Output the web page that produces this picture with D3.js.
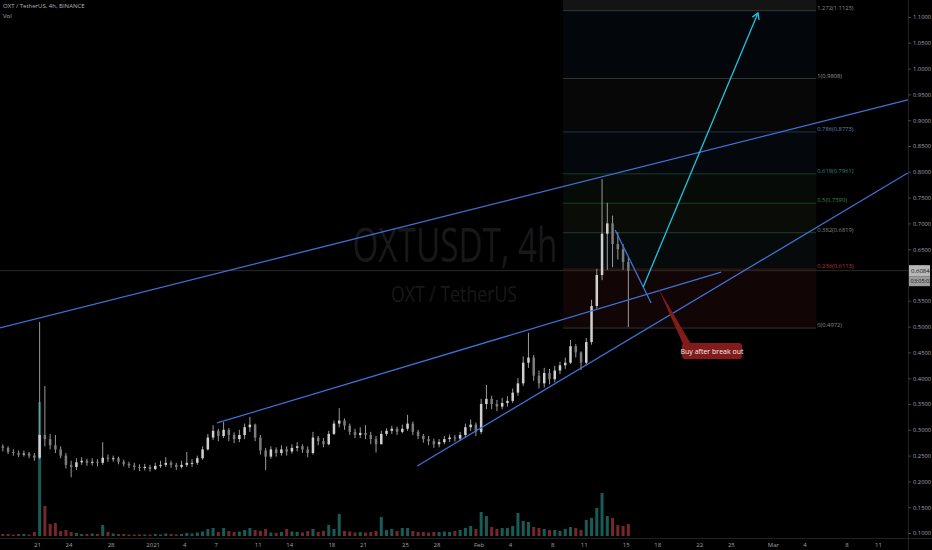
<!DOCTYPE html>
<html>
<head>
<meta charset="utf-8">
<script src="https://cdn.jsdelivr.net/npm/d3@7"></script>
<style>
    html, body { margin: 0; padding: 0; background: #000; overflow: hidden; }
    svg { display: block; font-family: "Open Sans", "DejaVu Sans", sans-serif; }
</style>
</head>
<body>
<div id="chart"></div>
<script>
// 12h candles starting at this time (UTC)
const firstCandle = "2020-12-17T12:00:00Z";
const firstOpen = 0.268;

const closes = [
    0.265, 0.257, 0.255, 0.252, 0.254, 0.250, 0.246, 0.290, 0.282, 0.270,
    0.262, 0.250, 0.232, 0.228, 0.237, 0.240, 0.236, 0.238, 0.236, 0.246,
    0.244, 0.245, 0.238, 0.234, 0.231, 0.228, 0.226, 0.228, 0.224, 0.230,
    0.232, 0.236, 0.232, 0.228, 0.232, 0.236, 0.236, 0.245, 0.262, 0.285,
    0.298, 0.288, 0.300, 0.290, 0.282, 0.290, 0.305, 0.310, 0.285, 0.260,
    0.248, 0.262, 0.255, 0.262, 0.258, 0.265, 0.268, 0.262, 0.255, 0.285,
    0.278, 0.272, 0.292, 0.312, 0.318, 0.308, 0.296, 0.290, 0.294, 0.290,
    0.282, 0.272, 0.292, 0.298, 0.302, 0.296, 0.302, 0.312, 0.296, 0.288,
    0.282, 0.278, 0.272, 0.276, 0.282, 0.285, 0.283, 0.290, 0.305, 0.310,
    0.296, 0.350, 0.360, 0.350, 0.345, 0.352, 0.356, 0.372, 0.390, 0.430,
    0.440, 0.405, 0.390, 0.410, 0.398, 0.415, 0.425, 0.430, 0.462, 0.450,
    0.430, 0.470, 0.540, 0.600, 0.680, 0.700, 0.660, 0.650, 0.625, 0.6084
];
const highs = [
    0.272, 0.268, 0.262, 0.260, 0.260, 0.257, 0.255, 0.509, 0.385, 0.292,
    0.290, 0.268, 0.255, 0.240, 0.245, 0.247, 0.244, 0.245, 0.243, 0.276,
    0.252, 0.250, 0.248, 0.242, 0.238, 0.236, 0.233, 0.234, 0.232, 0.236,
    0.240, 0.247, 0.240, 0.236, 0.240, 0.257, 0.243, 0.250, 0.268, 0.292,
    0.309, 0.302, 0.315, 0.303, 0.295, 0.300, 0.312, 0.325, 0.312, 0.290,
    0.265, 0.268, 0.266, 0.270, 0.268, 0.272, 0.276, 0.272, 0.268, 0.296,
    0.288, 0.284, 0.298, 0.318, 0.342, 0.322, 0.312, 0.302, 0.305, 0.309,
    0.296, 0.288, 0.298, 0.303, 0.308, 0.306, 0.310, 0.329, 0.316, 0.300,
    0.292, 0.288, 0.283, 0.282, 0.288, 0.291, 0.290, 0.296, 0.312, 0.320,
    0.314, 0.360, 0.387, 0.366, 0.358, 0.362, 0.365, 0.380, 0.400, 0.442,
    0.488, 0.445, 0.415, 0.420, 0.418, 0.424, 0.432, 0.440, 0.474, 0.466,
    0.452, 0.478, 0.552, 0.612, 0.786, 0.740, 0.715, 0.683, 0.660, 0.635
];
const lows = [
    0.258, 0.253, 0.250, 0.247, 0.248, 0.245, 0.240, 0.243, 0.268, 0.262,
    0.255, 0.245, 0.225, 0.208, 0.222, 0.232, 0.230, 0.231, 0.229, 0.232,
    0.238, 0.238, 0.233, 0.229, 0.226, 0.222, 0.220, 0.221, 0.219, 0.222,
    0.226, 0.228, 0.226, 0.222, 0.225, 0.228, 0.228, 0.232, 0.242, 0.260,
    0.280, 0.278, 0.284, 0.278, 0.274, 0.276, 0.282, 0.296, 0.278, 0.252,
    0.222, 0.244, 0.248, 0.250, 0.250, 0.254, 0.258, 0.255, 0.247, 0.252,
    0.270, 0.266, 0.270, 0.290, 0.305, 0.300, 0.290, 0.284, 0.284, 0.282,
    0.272, 0.256, 0.272, 0.288, 0.292, 0.290, 0.293, 0.298, 0.290, 0.282,
    0.275, 0.270, 0.265, 0.266, 0.272, 0.276, 0.277, 0.278, 0.285, 0.298,
    0.288, 0.292, 0.340, 0.340, 0.336, 0.340, 0.345, 0.352, 0.366, 0.385,
    0.420, 0.395, 0.380, 0.382, 0.388, 0.392, 0.408, 0.418, 0.428, 0.440,
    0.416, 0.425, 0.465, 0.535, 0.590, 0.610, 0.615, 0.630, 0.610, 0.499
];
// volume in millions OXT
const volumes = [
    0.4, 0.4, 0.3, 0.4, 0.4, 0.3, 0.8, 26.8, 6.0, 2.4,
    2.6, 1.0, 1.2, 0.8, 0.6, 0.4, 0.4, 0.5, 0.4, 2.2,
    0.8, 0.5, 0.4, 0.4, 0.3, 0.3, 0.3, 0.3, 0.3, 0.4,
    0.3, 0.5, 0.4, 0.3, 0.4, 0.6, 0.5, 0.7, 0.9, 1.4,
    1.6, 0.8, 1.6, 1.0, 0.8, 0.9, 1.2, 1.6, 1.2, 1.0,
    1.4, 0.7, 0.6, 0.8, 1.4, 0.9, 0.8, 0.7, 1.0, 1.4,
    0.8, 1.0, 2.2, 1.4, 4.4, 1.0, 0.9, 0.7, 0.8, 0.7,
    0.8, 1.0, 3.8, 1.2, 1.4, 1.0, 1.6, 1.6, 1.0, 0.8,
    0.8, 0.7, 0.8, 0.8, 0.9, 0.8, 1.0, 1.2, 1.6, 2.0,
    1.4, 4.8, 4.0, 1.8, 1.4, 1.6, 1.6, 2.0, 4.6, 3.0,
    2.8, 1.8, 1.6, 1.4, 1.2, 1.2, 1.0, 1.4, 1.8, 1.6,
    1.2, 3.2, 3.6, 5.6, 8.6, 4.0, 3.6, 2.2, 2.0, 2.4
];

const xTickDates = ["2020-12-21", "2020-12-24", "2020-12-28", "2021-01-01", "2021-01-04", "2021-01-07",
    "2021-01-11", "2021-01-14", "2021-01-18", "2021-01-21", "2021-01-25", "2021-01-28", "2021-02-01",
    "2021-02-04", "2021-02-08", "2021-02-11", "2021-02-15", "2021-02-18", "2021-02-22", "2021-02-25",
    "2021-03-01", "2021-03-04", "2021-03-08", "2021-03-11"];
const xTickLabels = ["21", "24", "28", "2021", "4", "7", "11", "14", "18", "21", "25", "28", "Feb",
    "4", "8", "11", "15", "18", "22", "25", "Mar", "4", "8", "11"];
const yTicks = [0.10, 0.15, 0.20, 0.25, 0.30, 0.35, 0.40, 0.45, 0.50, 0.55, 0.65, 0.70, 0.75,
    0.80, 0.85, 0.90, 0.95, 1.00, 1.05, 1.10];

// fibonacci retracement drawing
const fibLow = 0.4972, fibHigh = 0.9808;
const fibFrom = "2021-02-09T01:00:00Z", fibTo = "2021-03-05T03:00:00Z";
const fibLevels = [1.414, 1.272, 1, 0.786, 0.618, 0.5, 0.382, 0.236, 0];
const fibFills = ["#141414", "#03070b", "#070707", "#04080d", "#060b07", "#090c07", "#060a0a", "#110505"];
const fibLineColors = ["#333", "#2c3838", "#333", "#1f3150", "#163c36", "#1f3d1f", "#263a2c", "#451818", "#333"];
const fibTextColors = ["#888", "#8a8a8a", "#9a9a9a", "#5b82c4", "#2f8c7a", "#3f8a3f", "#7d8a7d", "#b33a3a", "#8a8a8a"];

// trend lines: [time, price] pairs
const trendLines = [
    [["2020-12-17T11:00:00Z", 0.4973], ["2021-03-13T20:00:00Z", 0.9392]],
    [["2021-01-07T03:00:00Z", 0.3132], ["2021-02-24T02:00:00Z", 0.6058]],
    [["2021-01-26T04:00:00Z", 0.2299], ["2021-03-13T20:00:00Z", 0.7977]],
    [["2021-02-14T00:00:00Z", 0.6872], ["2021-02-17T10:00:00Z", 0.5458]]
];
const targetArrow = [["2021-02-16T16:00:00Z", 0.5768], ["2021-02-27T14:00:00Z", 1.1078]];
const callout = {tip: ["2021-02-18T02:00:00Z", 0.575], at: ["2021-02-23T05:00:00Z", 0.4527], text: "Buy after break out"};
const lastPrice = 0.6084;
const countdown = "03:05:02";

// ---------- drawing ----------
const width = 932, height = 550;
const plotRight = 908, plotBottom = 538;

const svg = d3.select("#chart").append("svg")
    .attr("width", width)
    .attr("height", height)
    .style("background", "#000");

const x = d3.scaleUtc()
    .domain([new Date("2020-12-21T00:00:00Z"), new Date("2021-03-11T00:00:00Z")])
    .range([37, 878]);
const y = d3.scaleLinear().domain([0.1, 1.1]).range([533, 17]);
const yVol = d3.scaleLinear().domain([0, 30]).range([536, 386]);

svg.append("defs").append("clipPath").attr("id", "plot")
    .append("rect").attr("x", 0).attr("y", 0).attr("width", plotRight).attr("height", plotBottom);

const plot = svg.append("g").attr("clip-path", "url(#plot)");

// fib zones
const fibPrice = lv => fibLow + lv * (fibHigh - fibLow);
const fx0 = x(new Date(fibFrom)), fx1 = x(new Date(fibTo));
const zones = d3.pairs(fibLevels);
plot.append("g").selectAll("rect")
    .data(zones)
    .enter().append("rect")
    .attr("x", fx0)
    .attr("width", fx1 - fx0)
    .attr("y", d => y(fibPrice(d[0])))
    .attr("height", d => y(fibPrice(d[1])) - y(fibPrice(d[0])))
    .attr("fill", (d, i) => fibFills[i]);

plot.append("g").selectAll("line")
    .data(fibLevels)
    .enter().append("line")
    .attr("x1", fx0).attr("x2", fx1)
    .attr("y1", d => y(fibPrice(d))).attr("y2", d => y(fibPrice(d)))
    .attr("stroke", (d, i) => fibLineColors[i])
    .attr("stroke-width", 1);

plot.append("g").selectAll("text")
    .data(fibLevels.slice(1))
    .enter().append("text")
    .attr("x", fx1 + 1)
    .attr("y", d => y(fibPrice(d)) - 1)
    .attr("fill", (d, i) => fibTextColors[i + 1])
    .attr("font-size", 5.8)
    .text(d => `${d}(${fibPrice(d).toFixed(4)})`);

// watermark
plot.append("text")
    .attr("x", 455).attr("y", 262)
    .attr("text-anchor", "middle")
    .attr("font-size", 47)
    .attr("textLength", 205).attr("lengthAdjust", "spacingAndGlyphs")
    .attr("fill", "#181818")
    .text("OXTUSDT, 4h");
plot.append("text")
    .attr("x", 454).attr("y", 302)
    .attr("text-anchor", "middle")
    .attr("font-size", 21)
    .attr("textLength", 126).attr("lengthAdjust", "spacingAndGlyphs")
    .attr("fill", "#181818")
    .text("OXT / TetherUS");

// last price line
plot.append("line")
    .attr("x1", 0).attr("x2", plotRight)
    .attr("y1", y(lastPrice)).attr("y2", y(lastPrice))
    .attr("stroke", "#2a2a2a").attr("stroke-width", 1);

// build candle table
const t0 = new Date(firstCandle);
const candles = closes.map((c, i) => ({
    t: d3.utcHour.offset(t0, 12 * i + 6),
    o: i === 0 ? firstOpen : closes[i - 1],
    h: highs[i], l: lows[i], c: c, v: volumes[i]
}));

// volume
plot.append("g").selectAll("rect")
    .data(candles)
    .enter().append("rect")
    .attr("x", d => x(d.t) - 1.5)
    .attr("width", 3)
    .attr("y", d => yVol(d.v))
    .attr("height", d => yVol(0) - yVol(d.v))
    .attr("fill", d => d.c >= d.o ? "#175c56" : "#74282a");

// candles
const cg = plot.append("g").selectAll("g")
    .data(candles)
    .enter().append("g");
cg.append("line")
    .attr("x1", d => x(d.t)).attr("x2", d => x(d.t))
    .attr("y1", d => y(d.h)).attr("y2", d => y(d.l))
    .attr("stroke", "#9a9a9a").attr("stroke-width", 1);
cg.append("rect")
    .attr("x", d => x(d.t) - 1.25)
    .attr("width", 2.5)
    .attr("y", d => y(Math.max(d.o, d.c)))
    .attr("height", d => Math.max(1, Math.abs(y(d.o) - y(d.c))))
    .attr("fill", d => d.c >= d.o ? "#d0d0d0" : "#7c7c7c");

// trend lines
const pt = d => [x(new Date(d[0])), y(d[1])];
plot.append("g").selectAll("line")
    .data(trendLines)
    .enter().append("line")
    .attr("x1", d => pt(d[0])[0]).attr("y1", d => pt(d[0])[1])
    .attr("x2", d => pt(d[1])[0]).attr("y2", d => pt(d[1])[1])
    .attr("stroke", "#3d72d8").attr("stroke-width", 1.3);

// target arrow
const a0 = pt(targetArrow[0]), a1 = pt(targetArrow[1]);
plot.append("line")
    .attr("x1", a0[0]).attr("y1", a0[1]).attr("x2", a1[0]).attr("y2", a1[1])
    .attr("stroke", "#1cc6de").attr("stroke-width", 1.3);
const ang = Math.atan2(a1[1] - a0[1], a1[0] - a0[0]);
const head = [ang + 2.6, ang - 2.6].map(a => [a1[0] + 7 * Math.cos(a), a1[1] + 7 * Math.sin(a)]);
plot.append("path")
    .attr("d", `M${head[0]}L${a1}L${head[1]}`)
    .attr("fill", "none").attr("stroke", "#1cc6de").attr("stroke-width", 1.3);

// callout
const tip = pt(callout.tip), box = pt(callout.at);
const bw = 60, bh = 16;
plot.append("path")
    .attr("d", `M${tip}L${box[0] - bw / 2 + 1},${box[1] - bh / 2 + 1}L${box[0] - bw / 2 + 9},${box[1] - bh / 2 + 1}Z`)
    .attr("fill", "#841b1b");
plot.append("rect")
    .attr("x", box[0] - bw / 2).attr("y", box[1] - bh / 2)
    .attr("width", bw).attr("height", bh).attr("rx", 3)
    .attr("fill", "#841b1b");
plot.append("text")
    .attr("x", box[0]).attr("y", box[1] + 2.5)
    .attr("text-anchor", "middle")
    .attr("font-size", 7)
    .attr("fill", "#f0f0f0")
    .text(callout.text);

// header
svg.append("text").attr("x", 3).attr("y", 8).attr("font-size", 6).attr("fill", "#b2b5be")
    .text("OXT / TetherUS, 4h, BINANCE");
svg.append("text").attr("x", 3).attr("y", 18).attr("font-size", 6).attr("fill", "#b2b5be")
    .text("Vol");

// axes
svg.append("line").attr("x1", plotRight + 0.5).attr("x2", plotRight + 0.5)
    .attr("y1", 0).attr("y2", height).attr("stroke", "#222");
svg.append("line").attr("x1", 0).attr("x2", width)
    .attr("y1", plotBottom + 0.5).attr("y2", plotBottom + 0.5).attr("stroke", "#222");

const yAxis = svg.append("g")
    .attr("transform", `translate(${plotRight},0)`)
    .call(d3.axisRight(y).tickValues(yTicks).tickFormat(d3.format(".4f")).tickSize(3).tickPadding(2));
yAxis.select(".domain").remove();
yAxis.selectAll("line").attr("stroke", "#444");
yAxis.selectAll("text").attr("fill", "#a0a3ab").attr("font-size", 5.8).attr("font-family", "\"Open Sans\", sans-serif");

const xAxis = svg.append("g")
    .attr("transform", `translate(0,${plotBottom})`)
    .call(d3.axisBottom(x)
        .tickValues(xTickDates.map(d => new Date(d + "T00:00:00Z")))
        .tickFormat((d, i) => xTickLabels[i])
        .tickSize(0).tickPadding(5));
xAxis.select(".domain").remove();
xAxis.selectAll("text").attr("fill", "#a0a3ab").attr("font-size", 6).attr("font-family", "\"Open Sans\", sans-serif");

// last price tags
const tagY = y(lastPrice);
svg.append("rect").attr("x", plotRight + 1).attr("y", tagY - 5.5).attr("width", 21).attr("height", 11)
    .attr("fill", "#b8b8b8");
svg.append("text").attr("x", plotRight + 3).attr("y", tagY + 2).attr("font-size", 6).attr("fill", "#111")
    .text(lastPrice.toFixed(4));
svg.append("rect").attr("x", plotRight + 1).attr("y", tagY + 5.5).attr("width", 21).attr("height", 10)
    .attr("fill", "#9c9c9c");
svg.append("text").attr("x", plotRight + 2.5).attr("y", tagY + 12.5).attr("font-size", 5.5).attr("fill", "#111")
    .text(countdown);
</script>
</body>
</html>
